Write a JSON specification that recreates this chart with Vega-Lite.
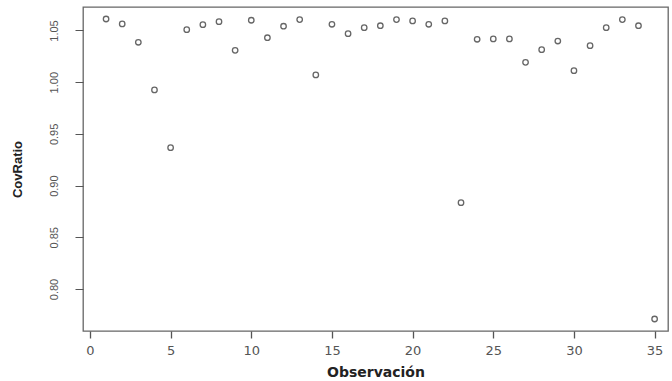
{
  "$schema": "https://vega.github.io/schema/vega-lite/v6.json",
  "width": 585,
  "height": 324,
  "autosize": {"type": "none"},
  "padding": {"left": 83, "top": 7, "right": 4, "bottom": 50},
  "background": "white",
  "config": {
    "view": {"stroke": "#666666", "strokeWidth": 1.3},
    "axis": {"grid": false, "domain": false, "tickColor": "#555555", "labelColor": "#444444", "titleColor": "#222222"}
  },
  "data": {
    "values": [
      {"obs": 1, "covratio": 1.0611},
      {"obs": 2, "covratio": 1.0563},
      {"obs": 3, "covratio": 1.0386},
      {"obs": 4, "covratio": 0.9925},
      {"obs": 5, "covratio": 0.9367},
      {"obs": 6, "covratio": 1.0508},
      {"obs": 7, "covratio": 1.0556},
      {"obs": 8, "covratio": 1.0585},
      {"obs": 9, "covratio": 1.0308},
      {"obs": 10, "covratio": 1.0599},
      {"obs": 11, "covratio": 1.0430},
      {"obs": 12, "covratio": 1.0541},
      {"obs": 13, "covratio": 1.0605},
      {"obs": 14, "covratio": 1.0070},
      {"obs": 15, "covratio": 1.0560},
      {"obs": 16, "covratio": 1.0469},
      {"obs": 17, "covratio": 1.0527},
      {"obs": 18, "covratio": 1.0546},
      {"obs": 19, "covratio": 1.0605},
      {"obs": 20, "covratio": 1.0592},
      {"obs": 21, "covratio": 1.0560},
      {"obs": 22, "covratio": 1.0592},
      {"obs": 23, "covratio": 0.8835},
      {"obs": 24, "covratio": 1.0415},
      {"obs": 25, "covratio": 1.0418},
      {"obs": 26, "covratio": 1.0418},
      {"obs": 27, "covratio": 1.0192},
      {"obs": 28, "covratio": 1.0314},
      {"obs": 29, "covratio": 1.0398},
      {"obs": 30, "covratio": 1.0111},
      {"obs": 31, "covratio": 1.0353},
      {"obs": 32, "covratio": 1.0527},
      {"obs": 33, "covratio": 1.0605},
      {"obs": 34, "covratio": 1.0546},
      {"obs": 35, "covratio": 0.7710}
    ]
  },
  "mark": {"type": "point", "shape": "circle", "filled": false, "size": 30, "stroke": "#666666", "strokeWidth": 1.3, "opacity": 1},
  "encoding": {
    "x": {
      "field": "obs", "type": "quantitative", "title": "Observación",
      "scale": {"domain": [-0.43, 35.83], "nice": false, "zero": false},
      "axis": {"values": [0, 5, 10, 15, 20, 25, 30, 35], "tickSize": 7, "tickWidth": 1.3, "offset": 0, "labelFont": "DejaVu Sans", "labelFontSize": 13, "labelPadding": 6, "labelColor": "#555555", "titleFont": "DejaVu Sans", "titleFontSize": 14, "titleFontWeight": "bold", "titlePadding": 8}
    },
    "y": {
      "field": "covratio", "type": "quantitative", "title": "CovRatio",
      "scale": {"domain": [0.7594, 1.0727], "nice": false, "zero": false},
      "axis": {"values": [0.8, 0.85, 0.9, 0.95, 1.0, 1.05], "format": ".2f", "tickSize": 8, "tickWidth": 1, "labelAngle": -90, "labelAlign": "center", "labelBaseline": "bottom", "labelPadding": 16, "labelFont": "Liberation Sans, Arial, sans-serif", "labelFontSize": 11, "labelColor": "#555555", "titleFont": "Liberation Sans, Arial, sans-serif", "titleFontSize": 13, "titleFontWeight": "bold", "titlePadding": 24}
    }
  }
}
